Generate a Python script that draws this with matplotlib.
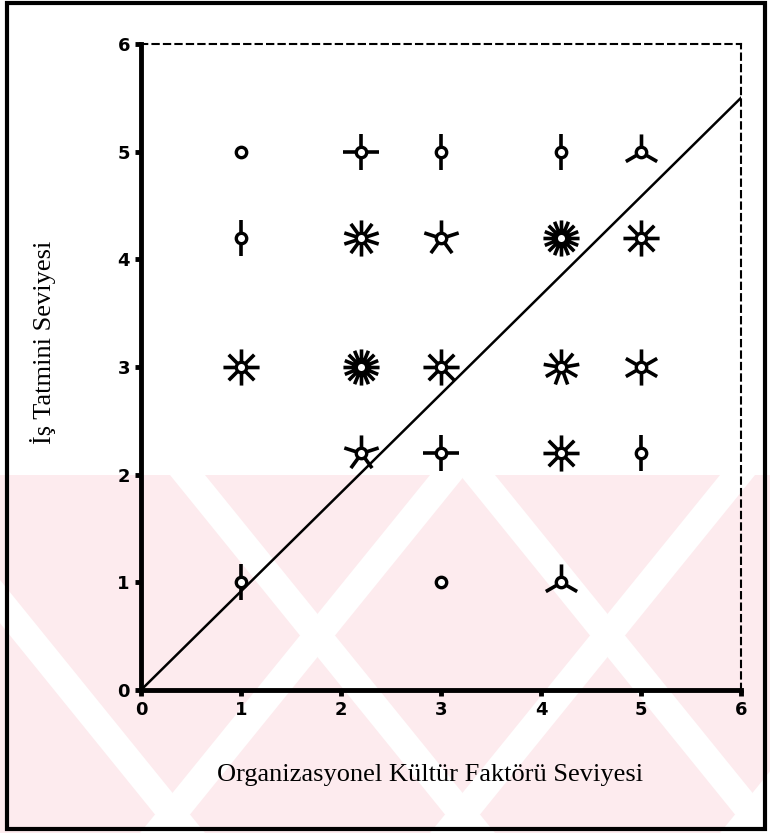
import numpy as np
import matplotlib.pyplot as plt
from matplotlib.path import Path
from matplotlib.patches import Rectangle, Polygon

# sunflower plot data: position and number of observations (petals)
x_vals = [1, 2.2, 3, 4.2, 5,
          1, 2.2, 3, 4.2, 5,
          1, 2.2, 3, 4.2, 5,
          2.2, 3, 4.2, 5,
          1, 3, 4.2]
y_vals = [5, 5, 5, 5, 5,
          4.2, 4.2, 4.2, 4.2, 4.2,
          3, 3, 3, 3, 3,
          2.2, 2.2, 2.2, 2.2,
          1, 1, 1]
counts = [1, 4, 2, 2, 3,
          2, 10, 5, 16, 8,
          8, 16, 8, 9, 6,
          5, 4, 8, 2,
          2, 1, 3]

# fitted line
line_x = [0, 6]
line_y = [0, 5.5]

ticks = [0, 1, 2, 3, 4, 5, 6]
xlabel = 'Organizasyonel Kültür Faktörü Seviyesi'
ylabel = 'İş Tatmini Seviyesi'

W, H = 770, 833
fig = plt.figure(figsize=(W / 100, H / 100), dpi=100)

def px(x, y):
    return (x / W, 1 - y / H)

# faint pink watermark in the lower part of the page
pink = '#fdebee'
fig.patches.append(Polygon([px(0, 475), px(770, 475), px(770, 833), px(0, 833)],
                           closed=True, transform=fig.transFigure,
                           facecolor=pink, edgecolor='none', zorder=0))
for x0 in [430, 720, 1010]:
    fig.patches.append(Polygon([px(x0, 475), px(x0 + 35, 475), px(x0 - 255, 833), px(x0 - 290, 833)],
                               closed=True, transform=fig.transFigure,
                               facecolor='white', edgecolor='none', zorder=0))
for x0 in [-120, 170, 460]:
    fig.patches.append(Polygon([px(x0, 475), px(x0 + 35, 475), px(x0 + 325, 833), px(x0 + 290, 833)],
                               closed=True, transform=fig.transFigure,
                               facecolor='white', edgecolor='none', zorder=0))

# page frame
fig.patches.append(Rectangle(px(7, 829), 758 / W, 826 / H, transform=fig.transFigure,
                             fill=False, edgecolor='black', linewidth=3, zorder=1))

ax = fig.add_axes([141 / W, 1 - 690 / H, 600 / W, 646 / H])
ax.set_zorder(3)
ax.set_facecolor('none')
ax.set_xlim(0, 6)
ax.set_ylim(0, 6)

ax.plot(line_x, line_y, color='black', linewidth=1.8, zorder=2)

def petals(n):
    verts, codes = [], []
    for k in range(n):
        a = np.pi / 2 + 2 * np.pi * k / n
        verts += [(0, 0), (np.cos(a), np.sin(a))]
        codes += [Path.MOVETO, Path.LINETO]
    return Path(verts, codes)

for x, y, n in zip(x_vals, y_vals, counts):
    if n > 1:
        ax.plot([x], [y], marker=petals(n), markersize=26, markeredgewidth=2.6,
                color='black', linestyle='none', zorder=3)
    ax.plot([x], [y], marker='o', markersize=7.5, markerfacecolor='white',
            markeredgecolor='black', markeredgewidth=2.4, linestyle='none', zorder=4)

ax.spines['left'].set_linewidth(3.5)
ax.spines['bottom'].set_linewidth(3.5)
for s in ['top', 'right']:
    ax.spines[s].set_linewidth(1.5)
    ax.spines[s].set_linestyle((0, (3, 2.5)))

ax.set_xticks(ticks)
ax.set_yticks(ticks)
ax.set_xticklabels([str(t) for t in ticks])
ax.set_yticklabels([str(t) for t in ticks])
ax.tick_params(direction='out', length=4, width=3.5, labelsize=13, pad=4)
for lab in ax.get_xticklabels() + ax.get_yticklabels():
    lab.set_fontweight('bold')

fig.text(430 / W, 1 - 775 / H, xlabel, ha='center', va='center',
         family='Liberation Serif', fontsize=19)
fig.text(43 / W, 1 - 342 / H, ylabel, ha='center', va='center', rotation=90,
         family='Liberation Serif', fontsize=19)

fig.savefig('out.png', dpi=100)
